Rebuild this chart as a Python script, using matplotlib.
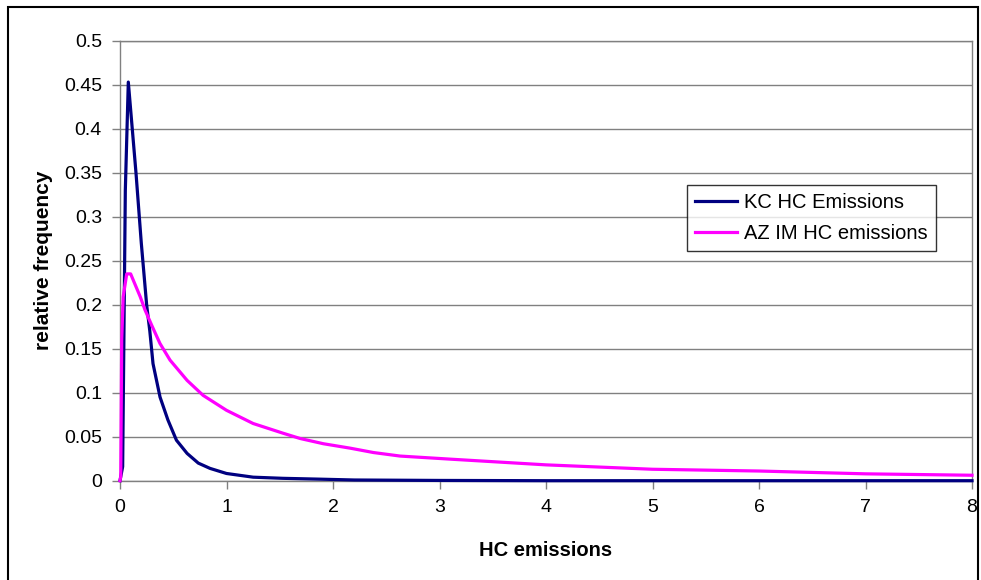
import matplotlib.pyplot as plt
from matplotlib.patches import Rectangle

plt.rcParams["font.family"] = ["Liberation Sans", "DejaVu Sans"]

# Data
kc_x = [0, 0.025, 0.05, 0.078, 0.15, 0.2, 0.25, 0.28, 0.31, 0.376, 0.45,
        0.53, 0.63, 0.735, 0.845, 1.0, 1.25, 1.53, 1.86, 2.2, 3, 4, 5, 6, 7, 8]
kc_y = [0, 0.016, 0.33, 0.453, 0.35, 0.27, 0.2, 0.17, 0.133, 0.095, 0.069,
        0.046, 0.031, 0.020, 0.014, 0.0082, 0.004, 0.0027, 0.0018, 0.0008,
        0.0003, 0, 0, 0, 0, 0]

az_x = [0, 0.007, 0.016, 0.03, 0.063, 0.1, 0.19, 0.235, 0.3, 0.375, 0.47,
        0.63, 0.78, 1.0, 1.25, 1.53, 1.69, 1.91, 2.16, 2.38, 2.63, 3.1,
        4, 5, 6, 7, 8]
az_y = [0, 0.005, 0.16, 0.209, 0.235, 0.235, 0.209, 0.194, 0.176, 0.156,
        0.137, 0.114, 0.097, 0.080, 0.065, 0.054, 0.048, 0.042, 0.037,
        0.032, 0.028, 0.0245, 0.018, 0.013, 0.011, 0.0078, 0.0062]

x_ticks = [0, 1, 2, 3, 4, 5, 6, 7, 8]
y_ticks = [0, 0.05, 0.1, 0.15, 0.2, 0.25, 0.3, 0.35, 0.4, 0.45, 0.5]
y_tick_labels = ["0", "0.05", "0.1", "0.15", "0.2", "0.25", "0.3",
                 "0.35", "0.4", "0.45", "0.5"]

fig = plt.figure(figsize=(9.81, 5.8), dpi=100)
ax = fig.add_axes([120 / 981, 1 - 480.7 / 580, 852 / 981, 440 / 580])

ax.plot(kc_x, kc_y, color="#000080", lw=2.3, label="KC HC Emissions",
        clip_on=False, zorder=3)
ax.plot(az_x, az_y, color="#FF00FF", lw=2.3, label="AZ IM HC emissions",
        clip_on=False, zorder=3)

ax.set_xlim(0, 8)
ax.set_ylim(0, 0.5)
ax.set_xticks(x_ticks)
ax.set_yticks(y_ticks)
ax.set_yticklabels(y_tick_labels)
ax.tick_params(axis="both", direction="out", length=6, width=1,
               color="#808080", labelsize=14, pad=7)

ax.yaxis.grid(True, color="#808080", lw=1)
ax.set_axisbelow(True)
for s in ax.spines.values():
    s.set_color("#808080")
    s.set_linewidth(1)

ax.set_xlabel("HC emissions", fontsize=14.5, fontweight="bold", labelpad=18)
ax.set_ylabel("relative frequency", fontsize=15, fontweight="bold",
              labelpad=8)

leg = ax.legend(loc="upper left",
                bbox_to_anchor=(687 / 981, 1 - 185 / 580),
                bbox_transform=fig.transFigure, borderaxespad=0,
                fontsize=14.5, frameon=True, fancybox=False,
                handlelength=2.1, handletextpad=0.35, labelspacing=0.6,
                borderpad=0.4)
leg.get_frame().set_edgecolor("black")
leg.get_frame().set_linewidth(1)

# outer chart border
fig.patches.append(Rectangle((8 / 981, -0.02), 970 / 981, 1 - 7 / 580 + 0.02,
                             transform=fig.transFigure, fill=False,
                             edgecolor="black", lw=1.5))

plt.savefig("out.png", dpi=100)
